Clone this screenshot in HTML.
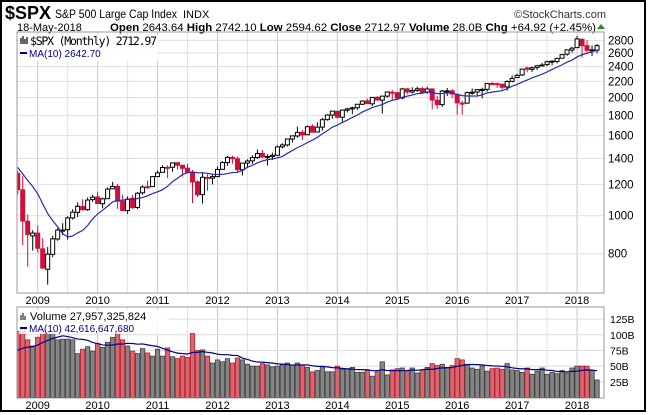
<!DOCTYPE html>
<html><head><meta charset="utf-8"><style>
html,body{margin:0;padding:0;background:#fff;}
svg{display:block;font-family:"Liberation Sans",sans-serif;}
</style></head><body>
<svg id="chart" width="650" height="415" viewBox="0 0 650 415" xmlns="http://www.w3.org/2000/svg">
<rect x="0" y="0" width="650" height="415" fill="#fff"/>
<rect x="1" y="1" width="644" height="410" fill="none" stroke="#000" stroke-width="2"/>
<g>
<text x="5" y="19" font-size="18" font-weight="bold">$SPX</text>
<text x="55" y="18" font-size="12" textLength="122" lengthAdjust="spacingAndGlyphs">S&amp;P 500 Large Cap Index</text>
<text x="183" y="18" font-size="11">INDX</text>
<text x="606" y="18" font-size="11" text-anchor="end" fill="#333">©StockCharts.com</text>
<text x="17" y="31" font-size="11">18-May-2018</text>
<text x="110" y="31" font-size="11" textLength="486" lengthAdjust="spacingAndGlyphs"><tspan font-weight="bold">Open</tspan> 2643.64 <tspan font-weight="bold">High</tspan> 2742.10 <tspan font-weight="bold">Low</tspan> 2594.62 <tspan font-weight="bold">Close</tspan> 2712.97 <tspan font-weight="bold">Volume</tspan> 28.0B <tspan font-weight="bold">Chg</tspan> +64.92 (+2.45%)</text>
<path d="M597 29 L601 24 L605 29 Z" fill="#2a8a2a"/>
</g>
<defs>
<clipPath id="pc"><rect x="17" y="32" width="587" height="261"/></clipPath>
<clipPath id="vc"><rect x="17" y="307" width="587" height="91"/></clipPath>
</defs>
<g id="priceGrid"></g>
<g id="priceMarks" clip-path="url(#pc)"></g>
<rect x="17" y="32" width="587" height="261" fill="none" stroke="#999"/>
<g id="volGrid"></g>
<g id="volMarks" clip-path="url(#vc)"></g>
<rect x="17" y="307" width="587" height="91" fill="none" stroke="#999"/>
<g id="axes"></g>
<g>
<rect x="20" y="35" width="138" height="26" fill="#fff" opacity="0.85"/>
<path d="M21 44v-6M23 44v-8M25 44v-5M27 44v-7" stroke="#000" stroke-width="1.2"/>
<text x="30" y="45" font-size="11.5" font-family="'DejaVu Sans Mono','Liberation Mono',monospace" textLength="127">$SPX (Monthly) 2712.97</text>
<line x1="20" y1="53" x2="27" y2="53" stroke="#00008b" stroke-width="2"/>
<text x="29" y="57" font-size="10" fill="#00008b">MA(10) 2642.70</text>
</g>
<g>
<rect x="19" y="310" width="150" height="24" fill="#fff" opacity="0.85"/>
<path d="M21 320v-5M23 320v-7M25 320v-4" stroke="#555" stroke-width="1.5"/>
<text x="30" y="320" font-size="11">Volume 27,957,325,824</text>
<line x1="20" y1="328" x2="27" y2="328" stroke="#00008b" stroke-width="2"/>
<text x="29" y="332" font-size="10" fill="#00008b">MA(10) 42,616,647,680</text>
</g>
</svg>
<script>
const startIndex = -4;
const priorCloses = [1468,1378,1330,1322,1385,1400,1280,1267,1283];
const opens = [1282,1164,968,888,903,823,730,797,872,919,921,987,1020,1055,1036,1099,1116,1073,1105,1171,1188,1088,1031,1108,1050,1144,1185,1186,1258,1290,1329,1329,1365,1345,1322,1292,1220,1132,1252,1247,1258,1313,1366,1408,1397,1310,1362,1380,1407,1441,1412,1416,1426,1498,1515,1569,1597,1631,1609,1690,1635,1682,1758,1806,1846,1783,1858,1874,1885,1924,1962,1929,2004,1971,2018,2065,2059,1997,2106,2067,2088,2109,2067,2105,1970,1920,2081,2082,2039,1937,1937,2057,2068,2094,2100,2174,2171,2164,2129,2201,2251,2285,2381,2362,2389,2415,2431,2478,2475,2521,2583,2645,2683,2816,2715,2634,2643];
const highs = [1303,1264,1007,918,943,876,832,888,930,957,997,1039,1081,1101,1113,1130,1150,1112,1180,1220,1206,1131,1120,1129,1149,1196,1228,1263,1303,1345,1344,1364,1370,1346,1357,1307,1230,1293,1277,1270,1334,1378,1420,1422,1415,1363,1392,1426,1475,1471,1434,1448,1510,1530,1570,1598,1687,1654,1698,1710,1730,1776,1814,1849,1850,1867,1884,1897,1924,1968,1991,2005,2019,2018,2075,2093,2072,2120,2117,2126,2135,2129,2133,2113,2021,2094,2117,2104,2039,1963,2073,2112,2104,2121,2178,2194,2188,2170,2214,2278,2301,2372,2401,2399,2418,2454,2484,2491,2519,2582,2657,2695,2873,2835,2801,2718,2742];
const lows = [1133,840,741,815,805,735,667,784,863,892,869,978,992,1030,1029,1085,1071,1045,1105,1170,1041,1029,1011,1040,1040,1131,1173,1186,1257,1289,1249,1294,1311,1258,1282,1077,1114,1074,1158,1202,1258,1312,1340,1357,1292,1267,1325,1355,1397,1403,1343,1386,1426,1485,1501,1537,1581,1560,1605,1628,1633,1647,1747,1767,1770,1738,1834,1815,1860,1915,1930,1905,1964,1821,2001,1972,1988,1981,2040,2048,2068,2056,2044,1867,1872,1893,2019,1993,1812,1810,1931,2034,2026,1992,2074,2148,2119,2097,2084,2188,2245,2271,2322,2328,2353,2405,2407,2418,2446,2520,2557,2605,2682,2533,2585,2553,2595];
const closes = [1166,969,896,903,826,735,798,873,919,919,987,1021,1057,1036,1096,1115,1074,1104,1169,1187,1089,1031,1102,1049,1141,1183,1181,1258,1286,1327,1326,1364,1345,1321,1292,1219,1131,1253,1247,1258,1312,1366,1408,1398,1310,1362,1379,1407,1441,1412,1416,1426,1498,1515,1569,1598,1631,1606,1686,1633,1682,1757,1806,1848,1783,1859,1872,1884,1924,1960,1931,2003,1972,2018,2068,2059,1995,2105,2068,2086,2107,2063,2104,1972,1920,2079,2080,2044,1940,1932,2060,2065,2097,2099,2174,2171,2168,2126,2199,2239,2279,2364,2363,2384,2412,2423,2470,2472,2519,2575,2648,2674,2824,2714,2641,2648,2713];
const priorVolumes = [75,78,72,70,68,70,72,70,72];
const volumes = [105,110,92,82,96,108,104,102,92,93,93,92,70,77,81,74,86,80,88,96,108,92,82,74,70,78,71,66,77,66,79,65,62,66,64,102,75,76,66,55,60,57,62,55,63,60,53,50,50,54,52,49,50,52,55,52,55,52,48,41,43,49,41,41,50,45,46,48,40,40,43,34,41,57,36,44,46,47,43,47,39,44,48,54,51,53,48,51,62,60,53,47,45,50,42,46,47,45,54,44,43,40,47,37,42,47,37,40,38,43,39,47,50,50,50,43,28];
const yearLabels = ["2009","2010","2011","2012","2013","2014","2015","2016","2017","2018"];
const priceTicks = [800,1000,1200,1400,1600,1800,2000,2200,2400,2600,2800];
const volTicks = [25,50,75,100,125];
const volTickLabels = ["25B","50B","75B","100B","125B"];

const NS="http://www.w3.org/2000/svg";
function mk(tag,attrs,parent){const e=document.createElementNS(NS,tag);for(const k in attrs)e.setAttribute(k,attrs[k]);parent.appendChild(e);return e;}
const X0=37.7, STEP=4.994;
function xAt(i){return X0+(i+startIndex)*STEP;}
function xMonth(m){return X0+m*STEP;}
function yP(p){return 253.7-170.3*Math.log(p/800);}
function yV(v){return 397.5-0.627*v;}

const pg=document.getElementById('priceGrid'), vg=document.getElementById('volGrid');
const pm=document.getElementById('priceMarks'), vm=document.getElementById('volMarks');
const ax=document.getElementById('axes');
for(let m=-6;m<=114;m+=6){const x=xMonth(m);if(x<17||x>604)continue;
 const major=(m%12===0);
 let l=mk('line',{x1:x,y1:32,x2:x,y2:293,stroke:major?'#c8c8c8':'#e2e2e2'},pg);
 
 l=mk('line',{x1:x,y1:307,x2:x,y2:398,stroke:major?'#c8c8c8':'#e2e2e2'},vg);
 }
priceTicks.forEach(p=>{const y=yP(p);
 const l=mk('line',{x1:17,y1:y,x2:604,y2:y,stroke:'#dedede'},pg);
 
 const t=mk('text',{x:608,y:y+4,'font-size':11.5},ax);t.textContent=p;
 });
volTicks.forEach((v,i)=>{const y=yV(v);
 const l=mk('line',{x1:17,y1:y,x2:604,y2:y,stroke:'#dedede'},vg);
 
 const t=mk('text',{x:610,y:y+4,'font-size':10.5},ax);t.textContent=volTickLabels[i];
 });
yearLabels.forEach((s,i)=>{const x=xMonth(i*12);
 let t=mk('text',{x:x,y:304,'font-size':11,'text-anchor':'middle'},ax);t.textContent=s;
 
 t=mk('text',{x:x,y:409,'font-size':11,'text-anchor':'middle'},ax);t.textContent=s;
 });

const allCloses=priorCloses.concat(closes), allVols=priorVolumes.concat(volumes);
for(let i=0;i<closes.length;i++){
 const x=xAt(i), o=opens[i], c=closes[i];
 const prev=i>0?closes[i-1]:priorCloses[priorCloses.length-1];
 const down=c<prev; const col=down?'#d0103a':'#000';
 const w=mk('line',{x1:x,y1:yP(highs[i]),x2:x,y2:yP(lows[i]),stroke:col,'stroke-width':1},pm);
 
 const top=yP(Math.max(o,c)), bot=yP(Math.min(o,c));
 const b=mk('rect',{x:x-2,y:top,width:4,height:Math.max(1,bot-top),fill:c<o?col:'#fff',stroke:col,'stroke-width':1},pm);
 
 const v=volumes[i];
 const vb=mk('rect',{x:x-2.2,y:yV(v),width:4.4,height:397.5-yV(v),fill:down?'#d9676f':'#858585',stroke:down?'#b02030':'#404040','stroke-width':0.8},vm);
 
}
function ma(arr,off){const pts=[];for(let i=0;i<arr.length-off;i++){const k=i+off;let s=0;for(let j=k-9;j<=k;j++)s+=arr[j];pts.push(s/10);}return pts;}
const pMA=ma(allCloses,priorCloses.length), vMA=ma(allVols,priorVolumes.length);
const pl=mk('polyline',{points:pMA.map((v,i)=>xAt(i)+','+yP(v)).join(' '),fill:'none',stroke:'#2a2ab0','stroke-width':1.2},pm);

const vl=mk('polyline',{points:vMA.map((v,i)=>xAt(i)+','+yV(v)).join(' '),fill:'none',stroke:'#00008b','stroke-width':1.2},vm);

</script>
</body></html>
